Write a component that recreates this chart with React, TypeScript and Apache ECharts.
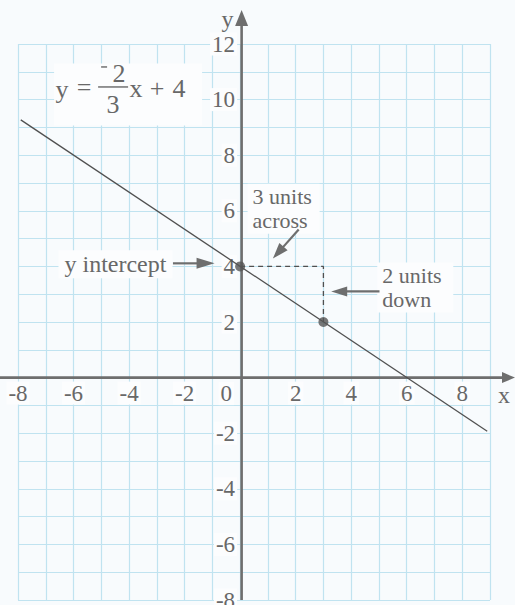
import React, { useEffect, useRef } from 'react';
import * as echarts from 'echarts';

// ---- data ----
const X_MIN = -8;
const X_MAX = 9;
const Y_MIN = -8;
const Y_MAX = 12;
const X_TICK_LABELS = [-8, -6, -4, -2, 2, 4, 6, 8];
const Y_TICK_LABELS = [-8, -6, -4, -2, 2, 4, 6, 8, 10, 12];
// y = -2/3 x + 4, visible segment
const LINE_ENDS = [
  [-7.9, 9.27],
  [8.9, -1.93],
];
const POINTS = [
  [0, 4],
  [3, 2],
];
const STEP_PATH = [
  [0, 4],
  [3, 4],
  [3, 2],
];
// annotations (data-space anchors)
const Y_INTERCEPT_LABEL = { text: 'y intercept', at: [-4.49, 4.08] };
const Y_INTERCEPT_ARROW = { from: [-2.42, 4.11], to: [-0.92, 4.11] };
const ACROSS_LABEL = { lines: ['3 units', 'across'], at: [0.45, 6.07] };
const ACROSS_ARROW = { from: [2.11, 5.33], to: [1.18, 4.28] };
const DOWN_LABEL = { lines: ['2 units', 'down'], at: [5.12, 3.24] };
const DOWN_ARROW = { from: [5.02, 3.1], to: [3.28, 3.1] };
const EQ_ANCHOR = [-6.7, 11.3];

const FONT = '"Liberation Serif", "DejaVu Serif", serif';
const TEXT_COLOR = '#686868';
const AXIS_COLOR = '#6e6e6e';
const GRID_COLOR = '#c0e3f0';
const BG = '#f8fbfd';
const LABEL_BG = '#fcfdfe';
const FS = 24;
const TICK_FS = 23;
const NOTE_FS = 22;
const NOTE_GAP = 24;

export default function App() {
  const ref = useRef<HTMLDivElement>(null);
  useEffect(() => {
    const chart = echarts.init(ref.current!, null, { renderer: 'svg' });
    const labelStyle = {
      color: TEXT_COLOR,
      fontFamily: FONT,
      fontSize: TICK_FS,
      backgroundColor: LABEL_BG,
      padding: [0, 2],
    };
    chart.setOption({
      animation: false,
      backgroundColor: BG,
      grid: {
        left: 18,
        top: 44,
        width: 472,
        height: 556,
        containLabel: false,
        outerBoundsMode: 'none',
      },
      xAxis: {
        type: 'value',
        position: 'bottom',
        min: X_MIN,
        max: X_MAX,
        interval: 1,
        axisLine: { show: false, onZero: false },
        axisTick: { show: false },
        splitLine: { show: true, lineStyle: { color: GRID_COLOR, width: 1.2 } },
        axisLabel: { ...labelStyle, margin: 4, customValues: X_TICK_LABELS },
      },
      yAxis: {
        type: 'value',
        position: 'left',
        min: Y_MIN,
        max: Y_MAX,
        interval: 1,
        axisLine: { show: false, onZero: false },
        axisTick: { show: false },
        splitLine: { show: true, lineStyle: { color: GRID_COLOR, width: 1.2 } },
        axisLabel: { ...labelStyle, margin: 3, customValues: Y_TICK_LABELS },
      },
      series: [
        {
          type: 'line',
          data: LINE_ENDS,
          symbol: 'none',
          z: 20,
          lineStyle: { color: '#505050', width: 1.3 },
        },
        {
          type: 'line',
          data: STEP_PATH,
          symbol: 'none',
          z: 20,
          lineStyle: { color: '#505050', width: 1.3, type: [5, 4] },
        },
        {
          type: 'scatter',
          data: POINTS,
          symbolSize: 10,
          z: 25,
          itemStyle: { color: '#555555' },
        },
      ],
    });

    const px = (p: number[]) => chart.convertToPixel({ gridIndex: 0 }, p) as number[];
    const o = px([0, 0]);
    const bl = px([X_MIN, Y_MIN]);
    const W = 515;

    // move both axes (and so their labels) onto the zero lines
    chart.setOption({
      xAxis: { offset: o[1] - bl[1] },
      yAxis: { offset: bl[0] - o[0] },
    });

    const text = (t: string, x: number, y: number, align: string, vAlign: string, extra: any = {}) => ({
      type: 'text',
      z: 12,
      style: {
        text: t,
        x,
        y,
        fill: TEXT_COLOR,
        font: `${extra.fontSize || FS}px ${FONT}`,
        align,
        textAlign: align,
        verticalAlign: vAlign,
        textVerticalAlign: vAlign,
        ...extra.style,
      },
    });

    const arrow = (a: number[], b: number[], headLen: number, halfW: number, width: number, color: string) => {
      const dx = b[0] - a[0];
      const dy = b[1] - a[1];
      const len = Math.sqrt(dx * dx + dy * dy);
      const ux = dx / len;
      const uy = dy / len;
      const bx = b[0] - ux * headLen;
      const by = b[1] - uy * headLen;
      return [
        {
          type: 'line',
          z: 11,
          shape: { x1: a[0], y1: a[1], x2: bx + ux * 1, y2: by + uy * 1 },
          style: { stroke: color, lineWidth: width },
        },
        {
          type: 'polygon',
          z: 11,
          shape: {
            points: [
              [b[0], b[1]],
              [bx - uy * halfW, by + ux * halfW],
              [bx + uy * halfW, by - ux * halfW],
            ],
          },
          style: { fill: color },
        },
      ];
    };

    // two-line note: background box + one text per line
    const note = (lines: string[], at: number[], boxW: number) => {
      const p = px(at);
      const h = NOTE_GAP * lines.length;
      const out: any[] = [
        {
          type: 'rect',
          z: 11,
          shape: { x: p[0] - 5, y: p[1] - h / 2 - 1, width: boxW, height: h + 2 },
          style: { fill: LABEL_BG },
        },
      ];
      lines.forEach((ln, i) => {
        out.push(
          text(ln, p[0], p[1] - h / 2 + NOTE_GAP * (i + 0.5), 'left', 'middle', { fontSize: NOTE_FS })
        );
      });
      return out;
    };

    const ax = o[0] + 1.5;
    const elements: any[] = [];
    // axes
    elements.push(...arrow([ax, bl[1]], [ax, 10], 16, 6.5, 2.6, AXIS_COLOR));
    elements.push(...arrow([0, o[1]], [W, o[1]], 13, 5.5, 2.6, AXIS_COLOR));
    elements.push(text('y', ax - 14, 19, 'center', 'middle'));
    elements.push(text('x', 504, o[1] + 17, 'center', 'middle'));
    elements.push(
      text('0', o[0] - 6, o[1] + 16, 'right', 'middle', {
        fontSize: TICK_FS,
        style: { backgroundColor: LABEL_BG, padding: [0, 2] },
      })
    );

    // annotations
    const yl = px(Y_INTERCEPT_LABEL.at);
    elements.push(
      text(Y_INTERCEPT_LABEL.text, yl[0], yl[1], 'center', 'middle', {
        style: { backgroundColor: LABEL_BG, padding: [2, 6] },
      })
    );
    elements.push(...arrow(px(Y_INTERCEPT_ARROW.from), px(Y_INTERCEPT_ARROW.to), 18, 5.5, 2.2, AXIS_COLOR));

    elements.push(...note(ACROSS_LABEL.lines, ACROSS_LABEL.at, 72));
    elements.push(...arrow(px(ACROSS_ARROW.from), px(ACROSS_ARROW.to), 16, 5.5, 2.2, AXIS_COLOR));

    elements.push(...note(DOWN_LABEL.lines, DOWN_LABEL.at, 76));
    elements.push(...arrow(px(DOWN_ARROW.from), px(DOWN_ARROW.to), 16, 5, 2.2, AXIS_COLOR));

    // equation box
    const e = px(EQ_ANCHOR);
    const EQ_FS = 26;
    elements.push({
      type: 'rect',
      z: 11,
      shape: { x: e[0], y: e[1], width: 148, height: 62 },
      style: { fill: LABEL_BG },
    });
    elements.push(text('y', e[0] + 8, e[1] + 26, 'center', 'middle', { fontSize: EQ_FS }));
    elements.push(text('=', e[0] + 30, e[1] + 24, 'center', 'middle', { fontSize: EQ_FS }));
    elements.push({
      type: 'line',
      z: 12,
      shape: { x1: e[0] + 44, y1: e[1] + 23.5, x2: e[0] + 74, y2: e[1] + 23.5 },
      style: { stroke: TEXT_COLOR, lineWidth: 1.4 },
    });
    elements.push({
      type: 'line',
      z: 12,
      shape: { x1: e[0] + 47, y1: e[1] + 3.5, x2: e[0] + 53, y2: e[1] + 3.5 },
      style: { stroke: TEXT_COLOR, lineWidth: 1.4 },
    });
    elements.push(text('2', e[0] + 65, e[1] + 10, 'center', 'middle', { fontSize: EQ_FS }));
    elements.push(text('3', e[0] + 59, e[1] + 41, 'center', 'middle', { fontSize: EQ_FS }));
    elements.push(text('x', e[0] + 82, e[1] + 25, 'center', 'middle', { fontSize: EQ_FS }));
    elements.push(text('+', e[0] + 103, e[1] + 25, 'center', 'middle', { fontSize: EQ_FS }));
    elements.push(text('4', e[0] + 125, e[1] + 25, 'center', 'middle', { fontSize: EQ_FS }));

    chart.setOption({ graphic: { elements } });

    return () => chart.dispose();
  }, []);

  return (
    <div
      ref={ref}
      style={{ position: 'absolute', left: 0, top: 0, width: 515, height: 605 }}
    />
  );
}
